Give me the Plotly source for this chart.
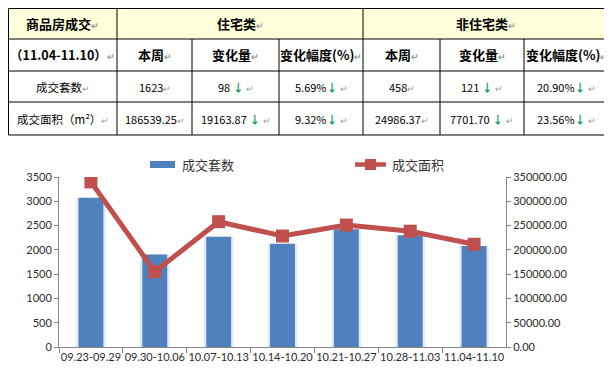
import plotly.graph_objects as go

# ---------------- data ----------------
weeks = ["09.23-09.29", "09.30-10.06", "10.07-10.13", "10.14-10.20",
         "10.21-10.27", "10.28-11.03", "11.04-11.10"]
units = [3075, 1905, 2270, 2125, 2425, 2300, 2081]
area = [340000, 155000, 258000, 228500, 251000, 238391.19, 211525.62]
series_names = ["成交套数", "成交面积"]

table_title = "商品房成交"
period = "（11.04-11.10）"
groups = ["住宅类", "非住宅类"]
sub_headers = ["本周", "变化量", "变化幅度(%)"]
row_labels = ["成交套数", "成交面积（m²）"]
res_week = ["1623", "186539.25"]
res_change = ["98", "19163.87"]
res_pct = ["5.69%", "9.32%"]
non_week = ["458", "24986.37"]
non_change = ["121", "7701.70"]
non_pct = ["20.90%", "23.56%"]

# ---------------- layout helpers ----------------
# the page body has an 8px margin, so the figure starts at (8, 8) in the window
OFF = 8
W, H = 612 - OFF, 369 - OFF
def px(x):
    return (x - OFF) / W
def py(y):
    return 1 - (y - OFF) / H

BLUE = "#4F81BD"
RED = "#C0504D"
GREEN = "#00A050"
MARK = "<span style='color:#9a9a9a;font-size:9px'>↵</span>"
ARROW = f"<span style='color:{GREEN}'><b>↓</b></span>"
CJK = "Noto Sans CJK SC"
TICKFONT = dict(family="Lato, Open Sans, sans-serif", size=11, color="#2b2b2b")

fig = go.Figure()

# halo behind bars
fig.add_trace(go.Bar(x=weeks, y=units, width=0.46, marker=dict(color="#E1E9F4", line=dict(width=0)),
                     showlegend=False, hoverinfo="skip"))
fig.add_trace(go.Bar(x=weeks, y=units, width=0.39, name=series_names[0],
                     marker=dict(color=BLUE, line=dict(width=0)), showlegend=False))
fig.add_trace(go.Scatter(x=weeks, y=area, yaxis="y2", name=series_names[1], mode="lines+markers",
                         line=dict(color=RED, width=5),
                         marker=dict(symbol="square", size=13, color=RED),
                         showlegend=False))

shapes = []
annotations = []

# ---------------- table ----------------
col_edges = [8.5, 117, 192, 279, 363, 440, 524, 609]
row_edges = [8.5, 39, 71, 102, 135]
line_style = dict(color="#000000", width=1)

shapes.append(dict(type="rect", xref="paper", yref="paper",
                   x0=px(col_edges[0]), x1=px(col_edges[-1]), y0=py(row_edges[1]), y1=py(row_edges[0]),
                   fillcolor="#FFFFD9", line=dict(width=0), layer="below"))
for y in row_edges:
    shapes.append(dict(type="line", xref="paper", yref="paper", x0=px(col_edges[0]), x1=px(col_edges[-1]),
                       y0=py(y), y1=py(y), line=line_style))
for i, x in enumerate(col_edges):
    top = row_edges[0] if i in (0, 1, 4, 7) else row_edges[1]
    shapes.append(dict(type="line", xref="paper", yref="paper", x0=px(x), x1=px(x),
                       y0=py(top), y1=py(row_edges[-1]), line=line_style))

def cell_text(xc, yc, text, size=11, bold=False):
    t = f"<b>{text}</b>" if bold else text
    annotations.append(dict(xref="paper", yref="paper", x=px(xc), y=py(yc), text=t, showarrow=False,
                            xanchor="center", yanchor="middle",
                            font=dict(family=CJK, size=size, color="#000000")))

def mid(a, b):
    return (a + b) / 2

rc = [mid(row_edges[i], row_edges[i + 1]) for i in range(4)]
cc = [mid(col_edges[i], col_edges[i + 1]) for i in range(7)]

cell_text(cc[0], rc[0], table_title + MARK, 13, True)
cell_text(mid(col_edges[1], col_edges[4]), rc[0], groups[0] + MARK, 13, True)
cell_text(mid(col_edges[4], col_edges[7]), rc[0], groups[1] + MARK, 13, True)
cell_text(cc[0], rc[1], period + MARK, 12.5, True)
for k, h in enumerate(sub_headers * 2):
    cell_text(cc[k + 1], rc[1], h + MARK, 13, True)

for r in range(2):
    yc = rc[r + 2]
    cell_text(cc[0], yc, row_labels[r] + MARK, 11.5)
    cell_text(cc[1], yc, res_week[r] + MARK, 11)
    cell_text(cc[2], yc, res_change[r] + " " + ARROW + " " + MARK, 11)
    cell_text(cc[3], yc, res_pct[r] + ARROW + " " + MARK, 11)
    cell_text(cc[4], yc, non_week[r] + MARK, 11)
    cell_text(cc[5], yc, non_change[r] + " " + ARROW + " " + MARK, 11)
    cell_text(cc[6], yc, non_pct[r] + ARROW + " " + MARK, 11)

# ---------------- manual legend ----------------
shapes.append(dict(type="rect", xref="paper", yref="paper", x0=px(150), x1=px(175), y0=py(168), y1=py(161),
                   fillcolor=BLUE, line=dict(width=0)))
shapes.append(dict(type="line", xref="paper", yref="paper", x0=px(355), x1=px(386), y0=py(164.5), y1=py(164.5),
                   line=dict(color=RED, width=4.5)))
shapes.append(dict(type="rect", xref="paper", yref="paper", x0=px(365), x1=px(376), y0=py(170), y1=py(159),
                   fillcolor=RED, line=dict(width=0)))
for xs, name in ((180, series_names[0]), (390, series_names[1])):
    annotations.append(dict(xref="paper", yref="paper", x=px(xs), y=py(164), text=name, showarrow=False,
                            xanchor="left", yanchor="middle",
                            font=dict(family=CJK, size=13, color="#333333")))

# ---------------- axes ----------------
axis_common = dict(showline=True, linecolor="#868686", linewidth=1, ticks="outside", tickcolor="#868686",
                   showgrid=False, zeroline=False, automargin=False, tickfont=TICKFONT)

fig.update_layout(
    width=W, height=H, autosize=False,
    margin=dict(l=0, r=0, t=0, b=0),
    template="none",
    paper_bgcolor="white", plot_bgcolor="white",
    barmode="overlay",
    showlegend=False,
    xaxis=dict(domain=[px(59), px(506)], anchor="y", tickson="boundaries", ticklen=5, tickangle=0,
               **axis_common),
    yaxis=dict(domain=[py(347), py(177)], range=[0, 3500], dtick=500, ticklen=4, **axis_common),
    yaxis2=dict(overlaying="y", side="right", anchor="x", range=[0, 350000], dtick=50000,
                tickformat=".2f", ticklen=4, **axis_common),
    shapes=shapes,
    annotations=annotations,
)

fig.write_html("out.html")
